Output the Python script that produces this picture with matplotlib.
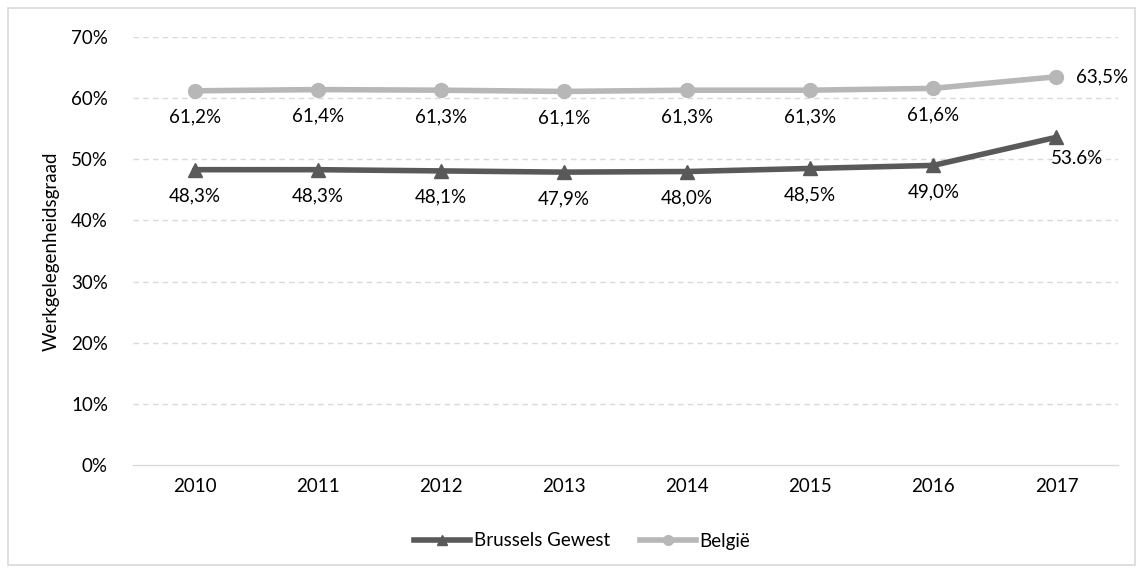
import matplotlib
matplotlib.use("Agg")
import matplotlib.pyplot as plt
from matplotlib.patches import Rectangle
from matplotlib.lines import Line2D

plt.rcParams['font.family'] = ['Lato', 'DejaVu Sans']

years = ['2010', '2011', '2012', '2013', '2014', '2015', '2016', '2017']
brussels = [48.3, 48.3, 48.1, 47.9, 48.0, 48.5, 49.0, 53.6]
belgie = [61.2, 61.4, 61.3, 61.1, 61.3, 61.3, 61.6, 63.5]
brussels_labels = ['48,3%', '48,3%', '48,1%', '47,9%', '48,0%', '48,5%', '49,0%', '53.6%']
belgie_labels = ['61,2%', '61,4%', '61,3%', '61,1%', '61,3%', '61,3%', '61,6%', '63,5%']
yticks = [0, 10, 20, 30, 40, 50, 60, 70]
ytick_labels = ['0%', '10%', '20%', '30%', '40%', '50%', '60%', '70%']

W, H = 1140, 569
fig = plt.figure(figsize=(W / 100, H / 100), dpi=100)
ax = fig.add_axes([133 / W, 1 - 465 / H, (1118 - 133) / W, (465 - 37) / H])

fig.patches.append(Rectangle((8 / W, 4 / H), (1135 - 8) / W, (561 - 4) / H,
                             transform=fig.transFigure, fill=False,
                             edgecolor='#d9d9d9', linewidth=1.2))

x = list(range(len(years)))
c_bru = '#595959'
c_bel = '#b7b7b7'

ax.plot(x, brussels, color=c_bru, linewidth=4, marker='^', markersize=10,
        label='Brussels Gewest', zorder=3, solid_capstyle='round')
ax.plot(x, belgie, color=c_bel, linewidth=4, marker='o', markersize=10,
        label='België', zorder=3, solid_capstyle='round')

ax.set_xlim(-0.5, len(years) - 0.5)
ax.set_ylim(0, 70)
ax.set_yticks(yticks)
ax.set_yticklabels(ytick_labels)
ax.set_xticks(x)
ax.set_xticklabels(years)
fs = 13.5
ax.tick_params(axis='both', length=0, labelsize=fs, colors='#000000')
ax.tick_params(axis='y', pad=18)
ax.tick_params(axis='x', pad=9)

for s in ['top', 'right', 'left']:
    ax.spines[s].set_visible(False)
ax.spines['bottom'].set_color('#d9d9d9')
ax.spines['bottom'].set_linewidth(1)

for yv in yticks[1:]:
    ax.axhline(yv, color='#d9d9d9', linewidth=1, linestyle=(0, (4, 3)), zorder=1)

ax.set_ylabel('Werkgelegenheidsgraad', fontsize=fs, labelpad=8)

for i, (v, lab) in enumerate(zip(belgie, belgie_labels)):
    if i == len(years) - 1:
        ax.annotate(lab, (i, v), xytext=(14, 0), textcoords='offset points',
                    ha='left', va='center', fontsize=fs)
    else:
        ax.annotate(lab, (i, v), xytext=(0, -19), textcoords='offset points',
                    ha='center', va='center', fontsize=fs)

for i, (v, lab) in enumerate(zip(brussels, brussels_labels)):
    if i == len(years) - 1:
        ax.annotate(lab, (i, v), xytext=(15, -15), textcoords='offset points',
                    ha='center', va='center', fontsize=fs)
    else:
        ax.annotate(lab, (i, v), xytext=(0, -19), textcoords='offset points',
                    ha='center', va='center', fontsize=fs)

handles = [Line2D([], [], color=c_bru, linewidth=4, marker='^', markersize=7),
           Line2D([], [], color=c_bel, linewidth=4, marker='o', markersize=7)]
fig.legend(handles, ['Brussels Gewest', 'België'], loc='center',
           bbox_to_anchor=(582 / W, 1 - 541 / H), ncol=2,
           frameon=False, fontsize=fs, handlelength=3.0, columnspacing=1.6,
           handletextpad=0.2)

fig.savefig('out.png', dpi=100)
